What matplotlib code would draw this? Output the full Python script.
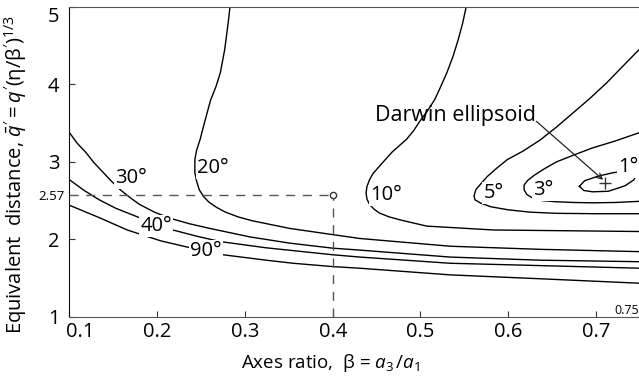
import numpy as np
import matplotlib
matplotlib.use("Agg")
import matplotlib.pyplot as plt
import matplotlib.transforms as mtransforms

plt.rcParams['font.family'] = ['Open Sans', 'DejaVu Sans']
plt.rcParams['mathtext.fontset'] = 'custom'
plt.rcParams['mathtext.rm'] = 'Open Sans'
plt.rcParams['mathtext.it'] = 'Open Sans:italic'
plt.rcParams['mathtext.bf'] = 'Open Sans:bold'

# contour lines (beta, q)
c20_x = [0.283, 0.281, 0.277, 0.272, 0.267, 0.261, 0.255, 0.249, 0.245, 0.243, 0.243, 0.245, 0.248, 0.253, 0.259, 0.268, 0.278, 0.292, 0.308, 0.351, 0.400, 0.431, 0.534, 0.636, 0.750]
c20_y = [5.00, 4.80, 4.45, 4.15, 3.97, 3.80, 3.55, 3.29, 3.15, 3.03, 2.86, 2.75, 2.64, 2.55, 2.48, 2.41, 2.35, 2.29, 2.24, 2.14, 2.06, 2.01, 1.91, 1.87, 1.84]

c30_x = [0.100, 0.109, 0.119, 0.128, 0.138, 0.148, 0.158, 0.169, 0.180, 0.197, 0.215, 0.237, 0.260, 0.306, 0.351, 0.400, 0.431, 0.534, 0.636, 0.750]
c30_y = [3.38, 3.24, 3.12, 2.99, 2.87, 2.75, 2.64, 2.54, 2.45, 2.35, 2.27, 2.20, 2.14, 2.03, 1.95, 1.885, 1.86, 1.77, 1.73, 1.71]

c40_x = [0.100, 0.117, 0.134, 0.153, 0.173, 0.195, 0.218, 0.245, 0.272, 0.324, 0.400, 0.431, 0.534, 0.636, 0.750]
c40_y = [2.77, 2.63, 2.51, 2.40, 2.31, 2.21, 2.12, 2.04, 1.97, 1.89, 1.80, 1.77, 1.69, 1.66, 1.626]

c90_x = [0.100, 0.117, 0.134, 0.150, 0.166, 0.185, 0.204, 0.234, 0.275, 0.324, 0.355, 0.400, 0.431, 0.534, 0.636, 0.750]
c90_y = [2.44, 2.36, 2.28, 2.20, 2.12, 2.05, 1.98, 1.90, 1.80, 1.73, 1.69, 1.647, 1.626, 1.54, 1.49, 1.432]

c10_x = [0.552, 0.548, 0.543, 0.537, 0.530, 0.523, 0.516, 0.508, 0.499, 0.492, 0.484, 0.476, 0.468, 0.460, 0.453, 0.446, 0.442, 0.439, 0.438, 0.439, 0.442, 0.447, 0.453, 0.464, 0.477, 0.507, 0.583, 0.750]
c10_y = [5.00, 4.79, 4.58, 4.36, 4.15, 3.97, 3.80, 3.66, 3.52, 3.40, 3.29, 3.21, 3.13, 3.03, 2.94, 2.85, 2.77, 2.68, 2.60, 2.52, 2.45, 2.39, 2.34, 2.29, 2.25, 2.17, 2.12, 2.10]

c5_x = [0.749, 0.730, 0.712, 0.693, 0.674, 0.655, 0.636, 0.617, 0.599, 0.587, 0.576, 0.569, 0.563, 0.561, 0.562, 0.568, 0.580, 0.600, 0.625, 0.655, 0.700, 0.749]
c5_y = [4.45, 4.23, 4.02, 3.82, 3.635, 3.45, 3.28, 3.14, 3.03, 2.92, 2.81, 2.72, 2.64, 2.56, 2.51, 2.47, 2.42, 2.38, 2.35, 2.335, 2.33, 2.33]

c3_x = [0.749, 0.722, 0.696, 0.675, 0.655, 0.641, 0.630, 0.622, 0.618, 0.618, 0.621, 0.627, 0.638, 0.655, 0.675, 0.696, 0.722, 0.749]
c3_y = [3.376, 3.27, 3.18, 3.09, 3.00, 2.91, 2.83, 2.76, 2.70, 2.64, 2.58, 2.536, 2.50, 2.484, 2.475, 2.471, 2.475, 2.49]

c1_x = [0.681, 0.687, 0.702, 0.719, 0.736, 0.744, 0.747, 0.743, 0.733, 0.714, 0.696, 0.686, 0.681]
c1_y = [2.684, 2.756, 2.814, 2.859, 2.885, 2.882, 2.859, 2.768, 2.691, 2.620, 2.613, 2.630, 2.684]

curves = [(c20_x, c20_y), (c30_x, c30_y), (c40_x, c40_y), (c90_x, c90_y),
          (c10_x, c10_y), (c5_x, c5_y), (c3_x, c3_y), (c1_x, c1_y)]

# labels on the contours
lab_text = ['30°', '20°', '40°', '90°', '10°', '5°', '3°', '1°']
lab_x = [0.170, 0.264, 0.199, 0.256, 0.461, 0.583, 0.640, 0.737]
lab_y = [2.79, 2.92, 2.167, 1.843, 2.574, 2.60, 2.64, 2.93]

darwin = (0.710, 2.733)
ref_point = (0.4, 2.57)

fig = plt.figure(figsize=(6.39, 3.80), dpi=100)
ax = fig.add_axes([0.10845, 0.1666, 0.8931, 0.815])

for cx, cy in curves:
    ax.plot(cx, cy, color='black', lw=1.0, solid_joinstyle='round')

for t, x, y in zip(lab_text, lab_x, lab_y):
    ax.text(x, y, t, fontsize=14.5, ha='center', va='center',
            bbox=dict(boxstyle='square,pad=0.05', fc='white', ec='none'))

# dashed guide to (0.4, 2.57)
ax.plot([0.1, ref_point[0]], [ref_point[1], ref_point[1]], color='#555555', lw=1.0, dashes=(6.5, 5.5))
ax.plot([ref_point[0], ref_point[0]], [1, ref_point[1]], color='#555555', lw=1.0, dashes=(6.5, 5.5))
ax.plot(ref_point[0], ref_point[1], 'o', ms=4.5, mfc='white', mec='#333333', mew=1.0)

# Darwin ellipsoid marker
ax.plot(darwin[0], darwin[1], '+', ms=8, color='#333333', mew=1.0)
ax.text(0.631, 3.60, 'Darwin ellipsoid', fontsize=15.5, ha='right', va='center')
ax.annotate('', xy=(0.708, 2.768), xytext=(0.632, 3.523),
            arrowprops=dict(arrowstyle='->', color='#222222', lw=0.9, shrinkA=0, shrinkB=0))

ax.text(0.735, 1.074, '0.75', fontsize=9, ha='center', va='center')

ax.set_xlim(0.1, 0.75)
ax.set_ylim(1, 5)
ax.set_xticks([0.1, 0.2, 0.3, 0.4, 0.5, 0.6, 0.7])
ax.set_xticklabels(['0.1', '0.2', '0.3', '0.4', '0.5', '0.6', '0.7'])
ax.set_yticks([1, 2, 3, 4, 5])
ax.set_yticklabels(['1', '2', '3', '4', '5'])
ax.set_yticks([2.57], minor=True)
ax.set_yticklabels(['2.57'], minor=True)
ax.tick_params(axis='both', which='major', direction='in', length=4, labelsize=14.5, color='#333333')
ax.tick_params(axis='x', which='major', pad=4)
ax.tick_params(axis='y', which='major', pad=7)
ax.tick_params(axis='y', which='minor', length=0, labelsize=9.5, pad=3)
ax.tick_params(top=False, right=False)

# first x label sits just right of the axis, top y label hangs below the top
first = ax.get_xticklabels()[0]
first.set_horizontalalignment('left')
first.set_transform(first.get_transform() + mtransforms.ScaledTranslation(-3 / 100, 0, fig.dpi_scale_trans))
ax.get_yticklabels()[-1].set_verticalalignment('top')

for s in ['top', 'bottom']:
    ax.spines[s].set_color('#555555')
ax.spines['left'].set_color('#111111')
ax.spines['right'].set_visible(False)

ax.set_xlabel(r"Axes ratio,  β = $a_3\,/a_1$", fontsize=13.5)
ax.xaxis.set_label_coords(0.458, -0.113)
ax.set_ylabel(r"Equivalent  distance, $\bar{q}' = q'(\mathrm{\eta}/\mathrm{\beta}')^{1/3}$", fontsize=14.5)
ax.yaxis.set_label_coords(-0.07, 0.46)

fig.savefig('out.png', dpi=100)
